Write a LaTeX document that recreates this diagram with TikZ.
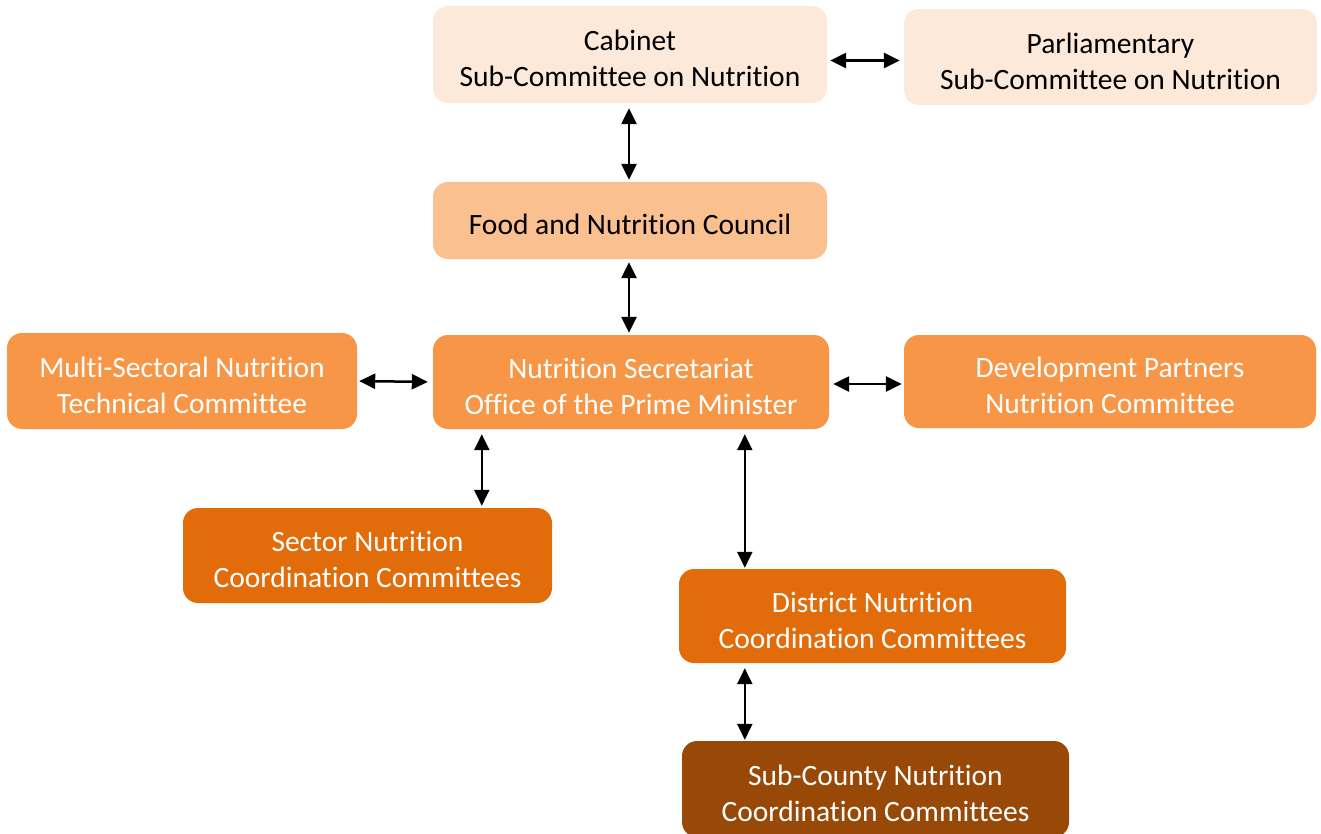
\documentclass[tikz,border=0pt]{standalone}
\usepackage{fontspec}
\setmainfont{Carlito}[Ligatures=NoCommon]
\usetikzlibrary{arrows.meta}
\definecolor{paleorange}{HTML}{FDE9D9}
\definecolor{lightorange}{HTML}{FAC090}
\definecolor{midorange}{HTML}{F79646}
\definecolor{deeporange}{HTML}{E36C0A}
\definecolor{brownorange}{HTML}{984807}
\tikzset{
  box/.style={rectangle, rounded corners=15pt, inner sep=0pt},
  caption/.style={align=center, inner sep=0pt, yshift=-4pt,
    font=\fontsize{29.5}{36}\selectfont},
  pale/.style={box, fill=paleorange},
  light/.style={box, fill=lightorange},
  mid/.style={box, fill=midorange},
  deep/.style={box, fill=deeporange},
  brown/.style={box, fill=brownorange},
  dark text/.style={caption, text=black},
  light text/.style={caption, text=white},
  link/.style={line width=2.5pt, draw=black,
    {Triangle[length=16pt,width=15pt]}-{Triangle[length=16pt,width=15pt]}}
}
\begin{document}
\begin{tikzpicture}[x=1pt,y=-1pt]
\useasboundingbox (0,0) rectangle (1321,833);
\clip (0,0) rectangle (1321,833);

% boxes, each with its caption set at its centre
\node[pale, minimum width=394pt, minimum height=97pt,
  label={[dark text]center:Cabinet\\Sub-Committee on Nutrition}] (cab) at (630,54.5) {};
\node[pale, minimum width=413pt, minimum height=96pt,
  label={[dark text]center:Parliamentary\\Sub-Committee on Nutrition}] (parl) at (1110.5,57) {};
\node[light, minimum width=394pt, minimum height=77pt,
  label={[dark text]center:Food and Nutrition Council}] (food) at (630,220.5) {};
\node[mid, minimum width=350pt, minimum height=96pt,
  label={[light text]center:Multi-Sectoral Nutrition\\Technical Committee}] (multi) at (182,381) {};
\node[mid, minimum width=396pt, minimum height=94pt,
  label={[light text]center:Nutrition Secretariat\\Office of the Prime Minister}] (sec) at (631,382) {};
\node[mid, minimum width=412pt, minimum height=93pt,
  label={[light text]center:Development Partners\\Nutrition Committee}] (dev) at (1110,381.5) {};
\node[deep, minimum width=369pt, minimum height=95pt,
  label={[light text]center:Sector Nutrition\\Coordination Committees}] (sector) at (367.5,555.5) {};
\node[deep, minimum width=387pt, minimum height=94pt,
  label={[light text]center:District Nutrition\\Coordination Committees}] (district) at (872.5,616) {};
\node[brown, minimum width=387pt, minimum height=96pt,
  label={[light text]center:Sub-County Nutrition\\Coordination Committees}] (sub) at (875.5,789) {};

% two-way links
\draw[link, shorten <=3pt, shorten >=4pt]
  ([yshift=-6pt]cab.east) -- ([yshift=-3.5pt]parl.west);
\draw[link, shorten <=5pt, shorten >=2pt]
  ([xshift=-1pt]cab.south) -- ([xshift=-1pt]food.north);
\draw[link, shorten <=3pt, shorten >=2pt]
  ([xshift=-1pt]food.south) -- ([xshift=-2pt]sec.north);
\draw[link, shorten <=2pt, shorten >=5pt] (multi.east) -- (sec.west);
\draw[link, shorten <=4pt, shorten >=2pt]
  ([yshift=-2pt]sec.east) -- ([yshift=-2.5pt]dev.west);
\draw[link, shorten <=5pt, shorten >=2pt]
  ([xshift=49pt]sec.south west) -- ([xshift=299pt]sector.north west);
\draw[link, shorten <=5pt, shorten >=1pt]
  ([xshift=312pt]sec.south west) -- ([xshift=66pt]district.north west);
\draw[link, shorten <=5pt, shorten >=1pt]
  ([xshift=66pt]district.south west) -- ([xshift=63pt]sub.north west);
\end{tikzpicture}
\end{document}
